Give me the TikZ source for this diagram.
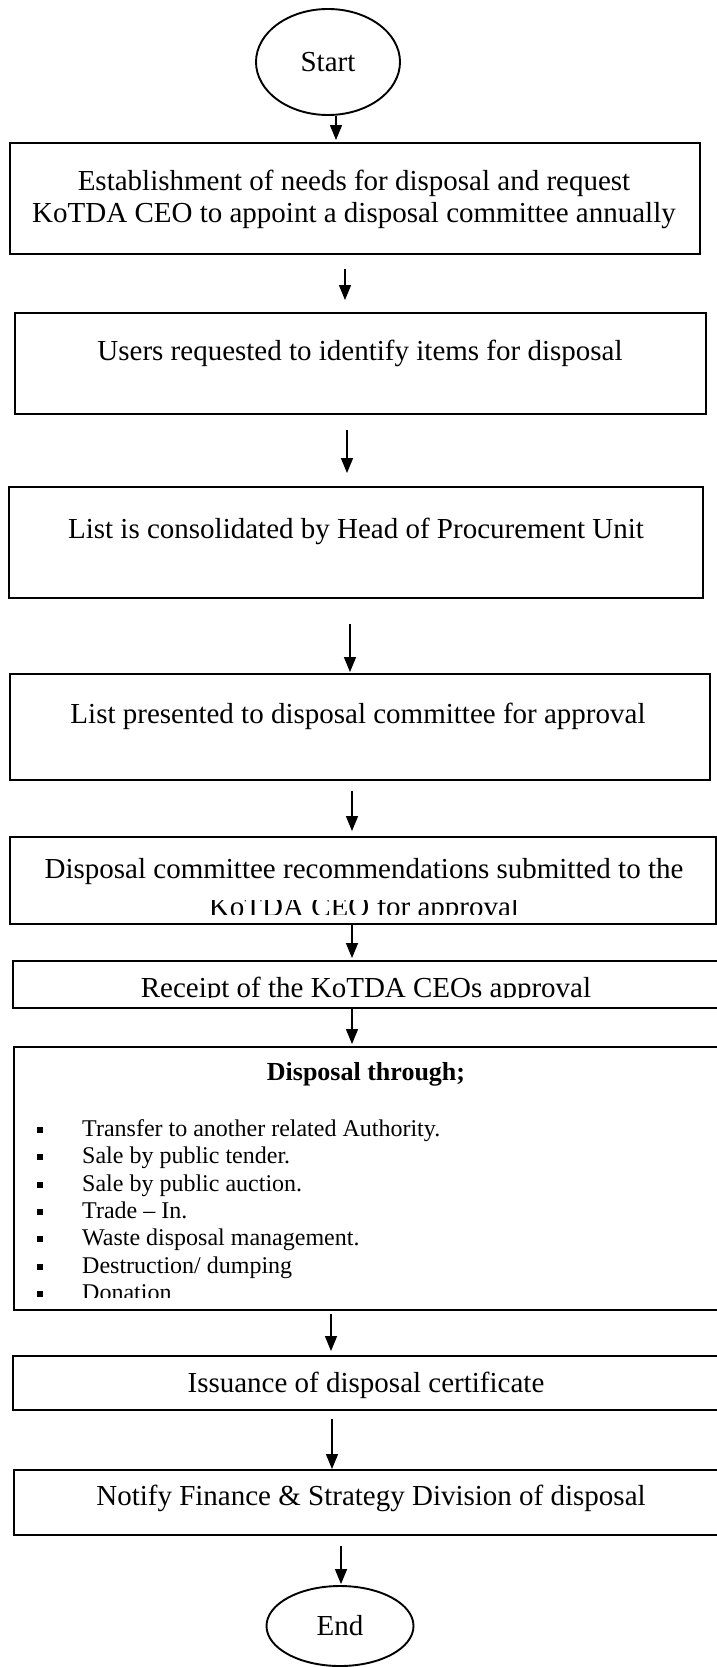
\documentclass[tikz,border=0pt]{standalone}
\usepackage{fontspec}
\setmainfont{Liberation Serif}
\usetikzlibrary{shapes.geometric, arrows.meta}

\begin{document}
\begin{tikzpicture}[x=1pt, y=-1pt,
  box/.style={draw, line width=1.9pt, rectangle, inner sep=0pt},
  oval/.style={draw, line width=1.9pt, ellipse, inner sep=0pt,
               font=\fontsize{29}{33}\selectfont},
  txt/.style={inner sep=0pt, anchor=base, font=\fontsize{29}{33}\selectfont},
  head/.style={inner sep=0pt, anchor=base, font=\fontsize{26}{30}\selectfont\bfseries},
  item/.style={inner sep=0pt, anchor=base west, font=\fontsize{24}{27}\selectfont},
  bul/.style={fill, rectangle, inner sep=0pt, minimum size=6pt},
  arr/.style={line width=1.4pt, -{Triangle[length=15pt, width=12pt]}}
]
\useasboundingbox (0,0) rectangle (717,1667);

% terminals
\node[oval, minimum width=144pt, minimum height=106pt] (start) at (328,62) {Start};
\node[oval, minimum width=147pt, minimum height=80pt] (end) at (340,1626) {End};

% process boxes
\node[box, minimum width=690pt, minimum height=111pt] (b1) at (355,198.5) {};
\node[box, minimum width=691pt, minimum height=101pt] (b2) at (360.5,363.5) {};
\node[box, minimum width=694pt, minimum height=111pt] (b3) at (356,542.5) {};
\node[box, minimum width=700pt, minimum height=106pt] (b4) at (360,727) {};
\node[box, minimum width=706pt, minimum height=87pt]  (b5) at (363,880.5) {};
\node[box, minimum width=707pt, minimum height=47pt]  (b6) at (366.5,984.5) {};
\node[box, minimum width=706pt, minimum height=263pt] (b7) at (367,1178.5) {};
\node[box, minimum width=707pt, minimum height=54pt]  (b8) at (366.5,1383) {};
\node[box, minimum width=706pt, minimum height=65pt]  (b9) at (367,1502.5) {};

% box texts
\node[txt] (t1a) at (354,190) {Establishment of needs for disposal and request};
\node[txt] (t1b) at (354,222) {KoTDA CEO to appoint a disposal committee annually};
\node[txt] (t2) at (360,360) {Users requested to identify items for disposal};
\node[txt] (t3) at (356,538) {List is consolidated by Head of Procurement Unit};
\node[txt] (t4) at (358,723) {List presented to disposal committee for approval};
\node[txt] (t5a) at (364,878) {Disposal committee recommendations submitted to the};
\begin{scope}
  \clip (10,900) rectangle (716,914.5);
  \node[txt] (t5b) at (364,916) {KoTDA CEO for approval};
\end{scope}
\begin{scope}
  \clip (13,965) rectangle (717,997.5);
  \node[txt] (t6) at (366,997) {Receipt of the KoTDA CEOs approval};
\end{scope}
\node[head] (t7) at (366,1080) {Disposal through;};
\begin{scope}
  \clip (14,1100) rectangle (717,1297);
  \node[item] (i1) at (82,1136) {Transfer to another related Authority.};
  \node[item] (i2) at (82,1163) {Sale by public tender.};
  \node[item] (i3) at (82,1191) {Sale by public auction.};
  \node[item] (i4) at (82,1218) {Trade – In.};
  \node[item] (i5) at (82,1245) {Waste disposal management.};
  \node[item] (i6) at (82,1273) {Destruction/ dumping};
  \node[item] (i7) at (82,1300) {Donation};
\end{scope}
\foreach \y [count=\k] in {1136,1163,1191,1218,1245,1273,1300}
  \node[bul] (m\k) at (40,\y-6) {};
\node[txt] (t8) at (366,1392) {Issuance of disposal certificate};
\node[txt] (t9) at (371,1505) {Notify Finance \& Strategy Division of disposal};

% connector columns
\coordinate (x1) at (336,0);
\coordinate (x2) at (345,0);
\coordinate (x3) at (347,0);
\coordinate (x4) at (350,0);
\coordinate (x5) at (352,0);
\coordinate (x8) at (331,0);
\coordinate (x9) at (332,0);
\coordinate (x10) at (341,0);

% connectors
\draw[arr, shorten >=2pt] (start.south -| x1) -- (b1.north -| x1);
\draw[arr, shorten <=14pt, shorten >=12pt] (b1.south -| x2) -- (b2.north -| x2);
\draw[arr, shorten <=15pt, shorten >=13pt] (b2.south -| x3) -- (b3.north -| x3);
\draw[arr, shorten <=25pt, shorten >=1pt] (b3.south -| x4) -- (b4.north -| x4);
\draw[arr, shorten <=10pt, shorten >=5pt] (b4.south -| x5) -- (b5.north -| x5);
\draw[arr, shorten >=2pt] (b5.south -| x5) -- (b6.north -| x5);
\draw[arr, shorten >=2pt] (b6.south -| x5) -- (b7.north -| x5);
\draw[arr, shorten <=3pt, shorten >=4pt] (b7.south -| x8) -- (b8.north -| x8);
\draw[arr, shorten <=8pt] (b8.south -| x9) -- (b9.north -| x9);
\draw[arr, shorten <=10pt, shorten >=1pt] (b9.south -| x10) -- (end.north -| x10);

\end{tikzpicture}
\end{document}
